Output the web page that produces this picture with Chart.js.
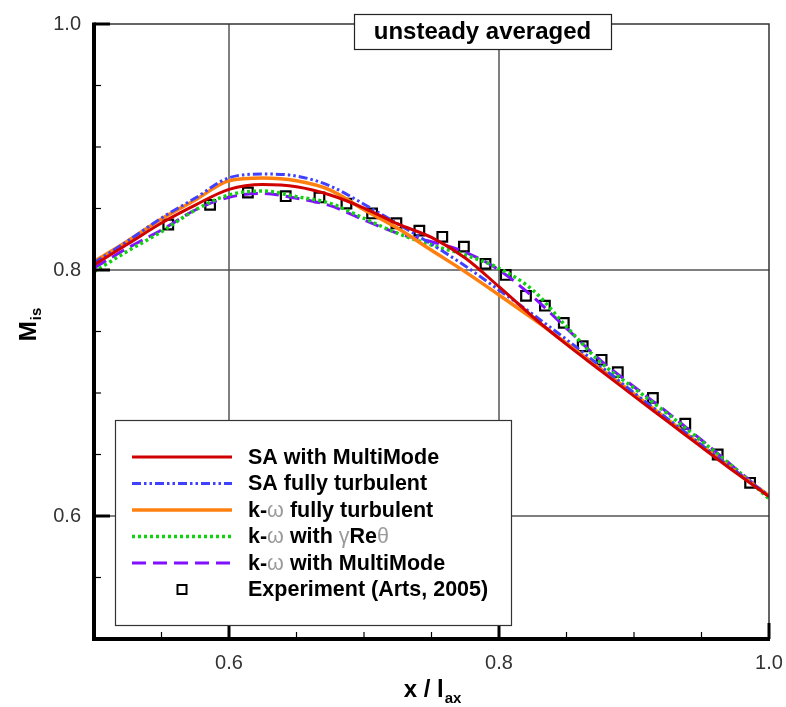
<!DOCTYPE html>
<html><head><meta charset="utf-8">
<script src="https://cdn.jsdelivr.net/npm/chart.js@4.4.1/dist/chart.umd.min.js"></script>
<style>html,body{margin:0;padding:0;background:#fff;} #wrap{width:786px;height:707px;position:relative}</style>
</head><body><div id="wrap"><canvas id="c" width="786" height="707"></canvas></div>
<script>
// ---- data ----
const xLine = [0.5,0.525,0.55,0.575,0.6,0.625,0.65,0.675,0.7,0.725,0.75,0.775,0.8,0.825,0.85,0.875,0.9,0.925,0.95,0.975,1.0];
const saMultiMode = [0.8041,0.8211,0.8382,0.8528,0.8656,0.8695,0.8677,0.8610,0.8504,0.8374,0.8265,0.8098,0.7864,0.7620,0.7395,0.7185,0.6975,0.6768,0.6560,0.6355,0.6158];
const saFullyTurb = [0.8057,0.8236,0.8423,0.8585,0.8750,0.8780,0.8764,0.8683,0.8535,0.8375,0.8210,0.8033,0.7837,0.7640,0.7435,0.7220,0.7002,0.6790,0.6578,0.6368,0.6165];
const kwFullyTurb = [0.8068,0.8236,0.8415,0.8569,0.8726,0.8748,0.8725,0.8650,0.8490,0.8339,0.8160,0.7985,0.7797,0.7605,0.7405,0.7200,0.6992,0.6783,0.6573,0.6365,0.6165];
const kwGammaRe = [0.7986,0.8154,0.8311,0.8488,0.8610,0.8642,0.8596,0.8542,0.8420,0.8298,0.8203,0.8122,0.8014,0.7837,0.7539,0.7252,0.7040,0.6830,0.6610,0.6385,0.6140];
const kwMultiMode = [0.8016,0.8179,0.8325,0.8488,0.8591,0.8622,0.8583,0.8523,0.8407,0.8298,0.8230,0.8145,0.8000,0.7783,0.7526,0.7268,0.7051,0.6840,0.6618,0.6388,0.6157];
const expX = [0.555,0.586,0.614,0.642,0.667,0.687,0.706,0.724,0.741,0.758,0.774,0.790,0.805,0.820,0.834,0.848,0.862,0.876,0.888,0.914,0.938,0.962,0.986];
const expY = [0.837,0.853,0.863,0.860,0.859,0.854,0.846,0.838,0.832,0.827,0.819,0.805,0.796,0.779,0.771,0.757,0.738,0.727,0.717,0.696,0.675,0.650,0.627];
const xTickLabels = [0.6,0.8,1.0];
const yTickLabels = [0.6,0.8,1.0];
const seriesLabels = ['SA with MultiMode','SA fully turbulent','k-\u03c9 fully turbulent','k-\u03c9 with \u03b3Re\u03b8','k-\u03c9 with MultiMode','Experiment (Arts, 2005)'];
const titleText = 'unsteady averaged';

const FONT = '"Liberation Sans", Arial, sans-serif';
const pts = arr => arr.map((v,i)=>({x:xLine[i], y:v}));
const lineDs = (label, data, color, width, dash) => ({
  label, data: pts(data), showLine:true, borderColor:color, backgroundColor:color,
  borderWidth:width, borderDash:dash, pointRadius:0, pointHoverRadius:0,
  cubicInterpolationMode:'monotone', fill:false
});

const isMajor = (v, list) => list.some(t => Math.abs(t - v) < 1e-6);

const deco = {
  id:'deco',
  beforeDatasetsDraw(chart){
    const {ctx, chartArea:a, scales:{x,y}} = chart;
    ctx.save();
    ctx.strokeStyle = '#555'; ctx.lineWidth = 1.5;
    xTickLabels.slice(0,-1).forEach(v=>{
      const px = x.getPixelForValue(v);
      ctx.beginPath(); ctx.moveTo(px,a.top); ctx.lineTo(px,a.bottom); ctx.stroke();
    });
    yTickLabels.slice(0,-1).forEach(v=>{
      const py = y.getPixelForValue(v);
      ctx.beginPath(); ctx.moveTo(a.left,py); ctx.lineTo(a.right,py); ctx.stroke();
    });
    ctx.restore();
  },
  afterDatasetsDraw(chart){
    const {ctx, chartArea:a, scales:{x,y}} = chart;
    const ds = chart.data.datasets;
    ctx.save();
    // top & right frame
    ctx.strokeStyle = '#333'; ctx.lineWidth = 1.5;
    ctx.beginPath(); ctx.moveTo(a.left,a.top); ctx.lineTo(a.right,a.top); ctx.lineTo(a.right,a.bottom); ctx.stroke();
    // ticks
    ctx.strokeStyle = '#000';
    for (let i=0;i<=10;i++){
      const v = 0.5 + i*0.05;
      const maj = isMajor(v, yTickLabels);
      ctx.lineWidth = maj ? 3 : 1.2;
      const len = maj ? 16 : 7;
      const py = y.getPixelForValue(v);
      ctx.beginPath(); ctx.moveTo(a.left,py); ctx.lineTo(a.left+len,py); ctx.stroke();
      const majx = isMajor(v, xTickLabels);
      ctx.lineWidth = majx ? 3 : 1.2;
      const lenx = majx ? 16 : 7;
      const px = x.getPixelForValue(v);
      ctx.beginPath(); ctx.moveTo(px,a.bottom); ctx.lineTo(px,a.bottom-lenx); ctx.stroke();
    }
    // thick left & bottom axes
    ctx.lineWidth = 4; ctx.strokeStyle = '#000';
    ctx.beginPath(); ctx.moveTo(a.left, a.top-1.5); ctx.lineTo(a.left, a.bottom); ctx.lineTo(a.right+1, a.bottom); ctx.stroke();

    // legend box
    const L = {x0:115, y0:420, x1:511, y1:625};
    ctx.fillStyle = '#fff'; ctx.fillRect(L.x0, L.y0, L.x1-L.x0, L.y1-L.y0);
    ctx.strokeStyle = '#333'; ctx.lineWidth = 1.2;
    ctx.strokeRect(L.x0+0.5, L.y0+0.5, L.x1-L.x0, L.y1-L.y0);
    ds.forEach((d,i)=>{
      const cy = 457 + i*26.5;
      if (d.showLine){
        ctx.save();
        ctx.strokeStyle = d.borderColor; ctx.lineWidth = d.borderWidth;
        ctx.setLineDash(d.borderDash || []);
        ctx.beginPath(); ctx.moveTo(132, cy); ctx.lineTo(232, cy); ctx.stroke();
        ctx.restore();
      } else {
        ctx.save(); ctx.strokeStyle='#000'; ctx.lineWidth=2;
        ctx.strokeRect(177.5, cy-4.5, 9, 9); ctx.restore();
      }
      let tx = 248;
      ctx.textBaseline = 'middle'; ctx.textAlign = 'left';
      for (const ch of d.label){
        const greek = /[\u03c9\u03b3\u03b8]/.test(ch);
        ctx.font = (greek ? '' : 'bold ') + '21.5px ' + FONT;
        ctx.fillStyle = greek ? '#9a9a9a' : '#000';
        ctx.fillText(ch, tx, cy+1);
        tx += ctx.measureText(ch).width;
      }
    });

    // title box
    ctx.fillStyle = '#fff'; ctx.fillRect(354, 14, 257, 35);
    ctx.strokeStyle = '#222'; ctx.lineWidth = 1.2; ctx.strokeRect(354.5, 14.5, 257, 35);
    ctx.font = 'bold 24px ' + FONT;
    ctx.fillStyle = '#000'; ctx.textAlign='center'; ctx.textBaseline='middle';
    ctx.fillText(titleText, 482.5, 32);

    // x axis title: x / l_ax
    ctx.textAlign='left'; ctx.textBaseline='alphabetic';
    ctx.font = 'bold 24px ' + FONT;
    const t1 = 'x / l'; const w1 = ctx.measureText(t1).width;
    ctx.font = 'bold 15px ' + FONT;
    const w2 = ctx.measureText('ax').width;
    const sx = 432 - (w1+w2)/2;
    ctx.font = 'bold 24px ' + FONT; ctx.fillText(t1, sx, 697);
    ctx.font = 'bold 15px ' + FONT; ctx.fillText('ax', sx+w1+1, 703);

    // y axis title: M_is rotated
    ctx.save();
    ctx.translate(36, 325); ctx.rotate(-Math.PI/2);
    ctx.font = 'bold 24px ' + FONT;
    const m1 = ctx.measureText('M').width;
    ctx.font = 'bold 15px ' + FONT;
    const m2 = ctx.measureText('is').width;
    const mx = -(m1+m2)/2;
    ctx.font = 'bold 24px ' + FONT; ctx.fillText('M', mx, 0);
    ctx.font = 'bold 15px ' + FONT; ctx.fillText('is', mx+m1+1, 5);
    ctx.restore();

    ctx.restore();
  }
};

const chart = new Chart(document.getElementById('c'), {
  type:'scatter',
  data:{ datasets:[
    lineDs(seriesLabels[0], saMultiMode, '#d00000', 3, []),
    lineDs(seriesLabels[1], saFullyTurb, '#4040ff', 3, [9,3,2.5,3,2.5,3]),
    lineDs(seriesLabels[2], kwFullyTurb, '#ff8010', 3.5, []),
    lineDs(seriesLabels[3], kwGammaRe, '#10d010', 3.5, [3,3]),
    lineDs(seriesLabels[4], kwMultiMode, '#8010ff', 3, [14,7]),
    { label:seriesLabels[5], data: expX.map((v,i)=>({x:v, y:expY[i]})), showLine:false,
      pointStyle:'rect', pointRadius:6.8, borderColor:'#000', borderWidth:2.2,
      backgroundColor:'rgba(0,0,0,0)', pointHoverRadius:6.8 }
  ]},
  options:{
    responsive:false, animation:false,
    layout:{ padding:{ left:0, right:17, top:24, bottom:0 } },
    plugins:{ legend:{display:false}, tooltip:{enabled:false} },
    scales:{
      x:{ type:'linear', min:0.5, max:1.0,
        afterFit(s){ s.height = 68; s.paddingLeft = 0; s.paddingRight = 0; },
        grid:{ display:false, drawTicks:false }, border:{ display:false },
        ticks:{ stepSize:0.05, autoSkip:false, maxRotation:0, padding:12, color:'#333',
          font:{ family:FONT, size:20 },
          callback:(v)=> isMajor(v, xTickLabels) ? v.toFixed(1) : '' } },
      y:{ type:'linear', min:0.5, max:1.0,
        afterFit(s){ s.width = 94; s.paddingTop = 0; s.paddingBottom = 0; },
        grid:{ display:false, drawTicks:false }, border:{ display:false },
        ticks:{ stepSize:0.05, autoSkip:false, padding:13, color:'#333',
          font:{ family:FONT, size:20 },
          callback:(v)=> isMajor(v, yTickLabels) ? v.toFixed(1) : '' } }
    }
  },
  plugins:[deco]
});
</script></body></html>
